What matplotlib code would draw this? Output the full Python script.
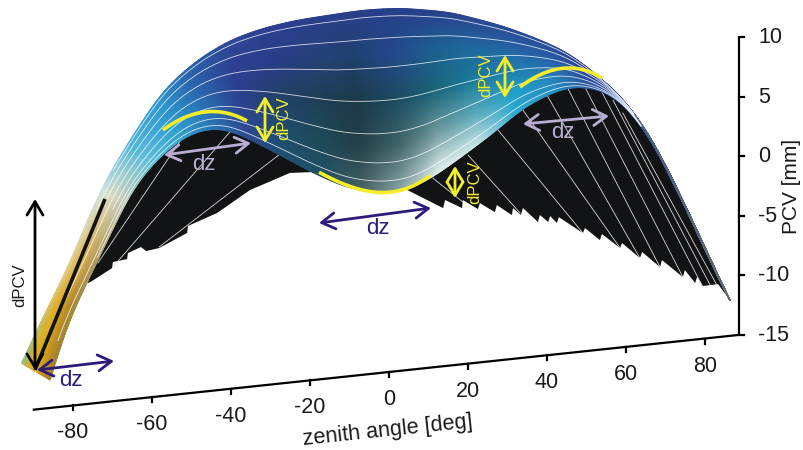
import numpy as np
import matplotlib
matplotlib.use("Agg")
import matplotlib.pyplot as plt
from matplotlib.colors import to_rgb
from matplotlib.transforms import Affine2D

plt.rcParams['font.family'] = ['Liberation Sans', 'DejaVu Sans']

# ---------- data: zenith angle [deg], PCV [mm] ----------
zenith_ticks = [-80, -60, -40, -20, 0, 20, 40, 60, 80]
pcv_ticks = [10, 5, 0, -5, -10, -15]

top_theta = [-93, -88.4, -81.5, -73.2, -65.6, -57.2, -48.6, -40.3, -31.9, -23.3, -6.6, 2.8, 15.4, 28.1,
             36.5, 45.1, 53.4, 60.3, 66.8, 74.4, 83, 86.3]
top_pcv = [-11.0, -7.8, -3.58, 2.84, 6.76, 10.66, 12.88, 14.26, 14.97, 15.34, 15.6, 15.44, 14.66, 13.12,
           11.82, 10.26, 7.87, 5.45, 2.11, -3.19, -9.61, -12.0]

front_theta = [-85.8, -81.5, -76.5, -73.2, -64.8, -57.2, -51.1, -45.3, -40.3, -35.9, -27.6, -19.2, -10.6, -2.3,
               4.6, 10.4, 19.7, 27.3, 33.9, 40, 45.1, 50.1, 55.2, 60.3, 66.8, 74.4, 83, 86.3]
front_pcv = [-12.66, -8.03, -4.85, -2.7, 2.79, 5.38, 6.68, 7.06, 6.71, 5.89, 4.17, 2.37, 0.81, 0.09,
             0.10, 0.82, 2.68, 4.34, 5.96, 6.83, 7.32, 7.15, 6.54, 5.12, 1.95, -3.36, -9.78, -12.0]

under_left_theta = [-76.2, -75.2, -70.1, -69.9, -66.3, -66.1, -62.8, -61.5, -58.2, -51.1, -50.9, -43.5, -35.2,
                    -25.1, -19.2, -13.7]
under_left_pcv = [-4.86, -4.73, -3.82, -3.32, -3.20, -2.70, -2.31, -2.69, -2.56, -1.54, -0.96, -0.13, 1.50,
                  2.58, 2.45, 1.59]
under_right_theta = [4.6, 13.7, 14.2, 18.5, 18.7, 22.5, 23.0, 26.8, 27.3, 31.1, 31.4, 33.4, 33.9, 37.7, 38.2,
                     40.3, 40.8, 42.5, 43, 49.1, 49.6, 53.4, 53.9, 58.5, 59, 63.5, 64.1, 68.6, 69.1, 74.4,
                     74.9, 77.5, 78, 79.5, 83.3, 86.3]
under_right_pcv = [0.11, -1.73, -1.07, -1.90, -1.23, -2.12, -1.64, -2.53, -1.95, -2.93, -2.35, -3.00, -2.43,
                   -3.74, -3.17, -3.83, -3.35, -3.99, -3.52, -5.07, -4.66, -5.81, -5.32, -6.65, -6.25, -7.67,
                   -7.19, -8.61, -8.04, -9.65, -9.08, -10.26, -9.77, -10.58, -10.55, -12.0]

rib_start_theta = [-73.7, -69.9, -58.2, 11.1, 20, 27.6, 33.9, 40, 45.1, 49.6, 53.9, 56.7, 59.2]
rib_start_pcv = [-3.27, -3.74, -2.47, 0.88, 2.5, 4.33, 5.79, 6.83, 7.32, 7.16, 6.59, 5.82, 4.65]
rib_end_theta = [-52.2, -40.3, -27.6, 18.7, 33.2, 49.1, 58.5, 63.5, 68.6, 74.4, 79.2, 81.3, 83]
rib_end_pcv = [6.54, 6.54, 4.25, -1.40, -2.83, -5.07, -6.65, -7.67, -8.61, -9.65, -10.49, -10.56, -10.62]

contour_levels = [0.04, 0.16, 0.32, 0.5, 0.68, 0.84, 0.94]
contour_start_theta = [-70, -74, -78, -90, -70, -84, -74]

color_theta = [-92, -85, -78, -72, -65, -58, -50, -40, -30, -20, -10, 0, 10, 20, 30, 40, 50, 60, 86]
color_rows = [0, 0.25, 0.5, 0.75, 1]
surface_colors = [
    ['#8fbf8f', '#d9b020', '#e0b010', '#c89020', '#a08030'],
    ['#dcc870', '#e0b030', '#d8a828', '#b88a28', '#a08a40'],
    ['#e0d8b0', '#dcc070', '#d4b060', '#c0a868', '#b0a070'],
    ['#d0e4e6', '#d8e0d0', '#d8d8c0', '#c8d0c0', '#c0c8b8'],
    ['#4fb2d8', '#52b6da', '#5cbcdc', '#60c0dc', '#58bcd8'],
    ['#2f98d0', '#2f98d0', '#2c9ad0', '#30a0d0', '#34a4d2'],
    ['#2b60a8', '#2a62a8', '#2a6cb0', '#2a78b8', '#2a78b8'],
    ['#2e4a98', '#2e3f92', '#2c3f90', '#2c4590', '#2b4a90'],
    ['#2b3f90', '#2a3d8a', '#23406c', '#1f4c6c', '#1f5070'],
    ['#2a3f8c', '#26427a', '#1e3f58', '#1e4a58', '#205062'],
    ['#2a3f8a', '#20406e', '#1c3a48', '#243f48', '#4a6468'],
    ['#27408a', '#24488a', '#1c4a60', '#3f6468', '#8ea8a8'],
    ['#27408a', '#1d6090', '#1a6478', '#6f9a9c', '#e4f0f0'],
    ['#2a4590', '#1f6a9c', '#1a7c9c', '#58a8b8', '#c8e4e6'],
    ['#2b4a98', '#2565a5', '#1f80b0', '#20a0cc', '#30a8d0'],
    ['#2b4a98', '#285ca5', '#2670b0', '#2585bd', '#2590c4'],
    ['#2b3f90', '#2b4294', '#2a4898', '#2a4e98', '#2a5098'],
    ['#2d4490', '#2b4698', '#2b4a9a', '#2b4c9a', '#2b4f9c'],
    ['#6a7585', '#6a7585', '#6a7585', '#6a7585', '#6a7585'],
]

# ---------- canvas and oblique projection ----------
fig = plt.figure(figsize=(8.04, 4.5), dpi=100)
ax = fig.add_axes([0, 0, 1, 1])
ax.set_xlim(0, 804)
ax.set_ylim(450, 0)
ax.axis('off')
plane = Affine2D.from_values(3.95, -0.4187, 0, -11.92, 389, 193.2)
proj = plane + ax.transData


def smooth(v, n=7, passes=3):
    for _ in range(passes):
        p = np.pad(v, n, mode='reflect', reflect_type='odd')
        v = np.convolve(p, np.ones(2 * n + 1) / (2 * n + 1), mode='same')[n:-n]
    return v


# ---------- surface ----------
u = np.linspace(0, 1, 500)
t_top = top_theta[0] + (top_theta[-1] - top_theta[0]) * u
t_front = front_theta[0] + (front_theta[-1] - front_theta[0]) * u
p_top = smooth(np.interp(t_top, top_theta, top_pcv))
p_front = smooth(np.interp(t_front, front_theta, front_pcv))

f = np.linspace(0, 1, 70)
TH = t_top[None, :] * (1 - f[:, None]) + t_front[None, :] * f[:, None]
PC = p_top[None, :] * (1 - f[:, None]) + p_front[None, :] * f[:, None]

rgb_nodes = np.array([[to_rgb(c) for c in col] for col in surface_colors])
u_nodes = (np.array(color_theta) - color_theta[0]) / (color_theta[-1] - color_theta[0])
by_u = np.stack([np.stack([np.interp(u, u_nodes, rgb_nodes[:, r, ch]) for ch in range(3)], -1)
                 for r in range(len(color_rows))], 0)
rgb = np.stack([np.stack([np.interp(f, color_rows, by_u[:, i, ch]) for ch in range(3)], -1)
                for i in range(len(u))], 1)

# underside
mask_l = (t_front > under_left_theta[0]) & (t_front < under_left_theta[-1])
mask_r = (t_front > under_right_theta[0]) & (t_front < under_right_theta[-1])
black = '#111315'
ax.fill(np.r_[under_left_theta, t_front[mask_l][::-1]], np.r_[under_left_pcv, p_front[mask_l][::-1]],
        color=black, lw=0, transform=proj, zorder=1)
ax.fill(np.r_[under_right_theta, t_front[mask_r][::-1]], np.r_[under_right_pcv, p_front[mask_r][::-1]],
        color=black, lw=0, transform=proj, zorder=1)
for a, b, c, d in zip(rib_start_theta, rib_start_pcv, rib_end_theta, rib_end_pcv):
    ax.plot([a, c], [b, d], color='#d8d8d8', lw=0.6, transform=proj, zorder=2)

ax.pcolormesh(TH, PC, rgb, shading='gouraud', transform=proj, zorder=3, rasterized=True)
for lev, start in zip(contour_levels, contour_start_theta):
    tt = t_top * (1 - lev) + t_front * lev
    pp = p_top * (1 - lev) + p_front * lev
    keep = (tt > start) & (tt < 64)
    ax.plot(tt[keep], pp[keep], color='white', lw=0.6, alpha=0.8, transform=proj, zorder=4)
right = t_top > 62
ax.plot(t_top[right], p_top[right], color='#5f6670', lw=0.9, transform=proj, zorder=4)

# ---------- axes ----------
lw_axis = 1.6
tick_size = 15.5
ax.plot([-90.2, 88.6], [-15, -15], color='black', lw=lw_axis, transform=proj, zorder=5, solid_capstyle='butt')
ax.plot([88.6, 88.6], [-15, 10], color='black', lw=lw_axis, transform=proj, zorder=5, solid_capstyle='butt')
for z in zenith_ticks:
    x0, y0 = plane.transform((z, -15))
    ax.plot([x0, x0], [y0, y0 + 5], color='black', lw=lw_axis, zorder=5)
    ax.text(x0, y0 + 27.5, str(z), ha='center', va='center', fontsize=tick_size, color='#1a1a1a')
for p in pcv_ticks:
    x0, y0 = plane.transform((88.6, p))
    ax.plot([x0, x0 + 5], [y0, y0], color='black', lw=lw_axis, zorder=5, solid_capstyle='projecting')
    ax.text(758, y0 + 0.5, str(p), ha='left', va='center', fontsize=tick_size, color='#1a1a1a')
ax.text(792, 186, 'PCV [mm]', rotation=90, ha='center', va='center', fontsize=15, color='#1a1a1a')
ax.text(388, 431, 'zenith angle [deg]', rotation=6, ha='center', va='center', fontsize=15.6,
        color='#1a1a1a', rotation_mode='anchor')

# ---------- annotations (image positions) ----------
yellow = '#f4ee2a'
lilac = '#b9aed2'
indigo = '#2e1a7a'


def arrow(x1, y1, x2, y2, color, lw=2.0, style='<->,head_length=0.6,head_width=0.36'):
    ax.annotate('', xy=(x2, y2), xytext=(x1, y1), zorder=7,
                arrowprops=dict(arrowstyle=style, color=color, lw=lw, shrinkA=0, shrinkB=0,
                                mutation_scale=16))


def arc(xs, ys):
    xx = np.linspace(xs[0], xs[-1], 60)
    ax.plot(xx, np.polyval(np.polyfit(xs, ys, 3), xx), color=yellow, lw=2.6, zorder=6, solid_capstyle='butt')


arc([163, 183, 207, 227, 247], [130, 118, 112, 113, 121])
arc([319, 340, 370, 397, 420, 430], [172, 183, 191, 191, 183, 175])
arc([520, 540, 563, 583, 602], [87, 75, 68, 70, 78])

arrow(265, 96, 265, 143, yellow)
arrow(455, 166, 455, 198, yellow)
arrow(505, 55, 505, 98, yellow)
for x, y in [(284, 118), (475, 182), (486, 75)]:
    ax.text(x, y, 'dPCV', rotation=90, ha='center', va='center', fontsize=12, color=yellow, zorder=8)

arrow(164, 155, 251, 143, lilac)
arrow(523, 124, 609, 116, lilac)
ax.text(204, 165, 'dz', ha='center', va='center', fontsize=16, color=lilac, zorder=8)
ax.text(563, 133, 'dz', ha='center', va='center', fontsize=16, color=lilac, zorder=8)

arrow(319, 223, 431, 208, indigo)
arrow(37, 370, 114, 361, indigo)
ax.text(378, 229, 'dz', ha='center', va='center', fontsize=16, color=indigo, zorder=8)
ax.text(71, 381, 'dz', ha='center', va='center', fontsize=16, color=indigo, zorder=8)

arrow(35, 370, 35, 199, 'black')
ax.plot([35, 105], [370, 199], color='#111111', lw=2.6, zorder=6, solid_capstyle='butt')
ax.text(20, 285, 'dPCV', rotation=90, ha='center', va='center', fontsize=12, color='#1a1a1a', zorder=8)

fig.savefig('out.png', dpi=100, facecolor='white')
